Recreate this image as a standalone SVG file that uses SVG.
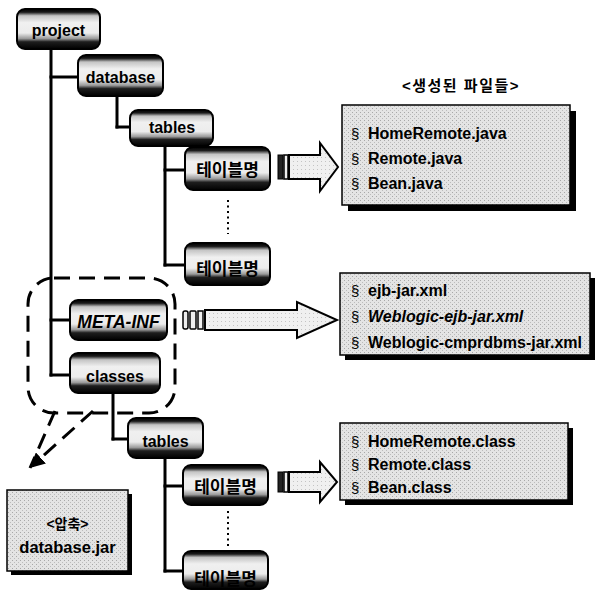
<svg xmlns="http://www.w3.org/2000/svg" width="597" height="591" viewBox="0 0 597 591">
<defs>
<linearGradient id="ng" x1="0" y1="0" x2="0" y2="1">
<stop offset="0" stop-color="#000"/>
<stop offset="0.08" stop-color="#1a1a1a"/>
<stop offset="0.17" stop-color="#c4c4c4"/>
<stop offset="0.34" stop-color="#f0f0f0"/>
<stop offset="0.6" stop-color="#ececec"/>
<stop offset="0.74" stop-color="#9a9a9a"/>
<stop offset="0.82" stop-color="#1e1e1e"/>
<stop offset="1" stop-color="#000"/>
</linearGradient>
<pattern id="st" width="4" height="4" patternUnits="userSpaceOnUse">
<rect width="4" height="4" fill="#e4e4e4"/>
<rect x="0" y="0" width="1" height="1" fill="#a8a8a8"/>
<rect x="2" y="2" width="1" height="1" fill="#bcbcbc"/>
</pattern>
<pattern id="st2" width="4" height="4" patternUnits="userSpaceOnUse">
<rect width="4" height="4" fill="#f0f0f0"/>
<rect x="1" y="1" width="1" height="1" fill="#c4c4c4"/>
</pattern>
<marker id="ah" viewBox="0 0 10 10" refX="8" refY="5" markerWidth="5" markerHeight="5" orient="auto">
<path d="M0,0 L10,5 L0,10 Z" fill="#000"/>
</marker>
</defs>
<style>
.node rect{fill:url(#ng);stroke:#000;stroke-width:2}
.nt{font-family:"Liberation Sans",Arial,sans-serif;font-size:16px;font-weight:bold;fill:#000;text-anchor:middle}
.kt{font-family:"Liberation Sans","Noto Sans CJK KR",sans-serif;font-size:17px;font-weight:bold;fill:#000;text-anchor:middle}
.conn line{stroke:#000;stroke-width:3;stroke-linecap:square}
.dots{stroke:#000;stroke-width:2;stroke-dasharray:2 3.5;fill:none}
.shadow{fill:#000}
.fbox{fill:url(#st);stroke:#000;stroke-width:1.5}
.ft{font-family:"Liberation Sans",Arial,sans-serif;font-size:16px;font-weight:bold;fill:#000}
.sec{font-family:"Liberation Sans",Arial,sans-serif;font-size:15px;fill:#000}
.barrow{fill:url(#st2);stroke:#000;stroke-width:2;stroke-linejoin:miter}
.lip{fill:#222;stroke:#000;stroke-width:1}
.lip2{fill:#eee;stroke:#000;stroke-width:1.5}
.dash{fill:none;stroke:#000;stroke-width:3;stroke-dasharray:16 9}
</style>

<g id="connectors" class="conn">
<line x1="51" y1="49" x2="51" y2="375"/>
<line x1="51" y1="77" x2="78" y2="77"/>
<line x1="51" y1="320" x2="70" y2="320"/>
<line x1="51" y1="375" x2="70" y2="375"/>
<line x1="117" y1="96" x2="117" y2="127"/>
<line x1="117" y1="127" x2="130" y2="127"/>
<line x1="165" y1="146" x2="165" y2="265"/>
<line x1="165" y1="170" x2="185" y2="170"/>
<line x1="165" y1="265" x2="185" y2="265"/>
<line x1="113" y1="393" x2="113" y2="439"/>
<line x1="113" y1="439" x2="128" y2="439"/>
<line x1="165" y1="458" x2="165" y2="571"/>
<line x1="165" y1="486" x2="183" y2="486"/>
<line x1="165" y1="571" x2="183" y2="571"/>
</g>

<g id="node-project" class="node"><rect x="17" y="9" width="83" height="40" rx="8"/><text class="nt" x="58.5" y="36">project</text></g>
<g id="node-database" class="node"><rect x="78" y="55" width="85" height="41" rx="8"/><text class="nt" x="120.5" y="83">database</text></g>
<g id="node-tables1" class="node"><rect x="130" y="110" width="83" height="36" rx="8"/><text class="nt" x="172" y="133">tables</text></g>
<g id="node-tn1" class="node"><rect x="185" y="147" width="85" height="43" rx="8"/><text class="kt" x="227.5" y="176">테이블명</text></g>
<path class="dots" d="M228,200 V234"/>
<g id="node-tn2" class="node"><rect x="185" y="243" width="85" height="42" rx="8"/><text class="kt" x="227.5" y="275">테이블명</text></g>
<g id="node-metainf" class="node"><rect x="70" y="300" width="97" height="40" rx="8"/><text class="nt" x="118.5" y="328" style="font-style:italic;font-size:17.5px">META-INF</text></g>
<g id="node-classes" class="node"><rect x="70" y="353" width="90" height="40" rx="8"/><text class="nt" x="115" y="382">classes</text></g>
<g id="node-tables2" class="node"><rect x="128" y="418" width="75" height="40" rx="8"/><text class="nt" x="165.5" y="447">tables</text></g>
<g id="node-tn3" class="node"><rect x="183" y="465" width="85" height="40" rx="8"/><text class="kt" x="225.5" y="493">테이블명</text></g>
<path class="dots" d="M228,511 V547"/>
<g id="node-tn4" class="node"><rect x="183" y="551" width="85" height="38" rx="8"/><text class="kt" x="225.5" y="585">테이블명</text></g>

<g id="group-boundary">
<rect class="dash" x="28" y="278" width="147" height="135" rx="26"/>
<line class="dash" x1="55" y1="411" x2="30" y2="468"/>
<line class="dash" x1="93" y1="411" x2="32" y2="466" marker-end="url(#ah)"/>
</g>

<g id="arrow1">
<rect class="lip" x="278" y="155" width="5" height="24"/>
<rect class="lip2" x="284" y="155" width="4" height="24"/>
<polygon class="barrow" points="289,155 320,155 320,143 338,167 320,191 320,179 289,179"/>
</g>
<g id="arrow2">
<rect class="lip2" x="183" y="311" width="5" height="18" rx="2"/>
<rect class="lip2" x="190" y="311" width="6" height="18" rx="1"/>
<rect class="lip2" x="198" y="311" width="5" height="18"/>
<polygon class="barrow" points="205,310 297,310 297,302 337,320 297,338 297,330 205,330"/>
</g>
<g id="arrow3">
<rect class="lip" x="278" y="472" width="5" height="20"/>
<rect class="lip2" x="284" y="472" width="4" height="20"/>
<polygon class="barrow" points="289,472 320,472 320,462 337,482 320,502 320,492 289,492"/>
</g>

<text id="title" x="461" y="91" style="font-family:'Liberation Sans','Noto Sans CJK KR',sans-serif;font-size:15px;font-weight:bold;letter-spacing:1.5px;text-anchor:middle">&lt;생성된 파일들&gt;</text>

<g id="files-java">
<rect class="shadow" x="348" y="111" width="228" height="100"/>
<rect class="fbox" x="342" y="105" width="228" height="100"/>
<text class="sec" x="351" y="139">§</text><text class="ft" x="368" y="139">HomeRemote.java</text>
<text class="sec" x="351" y="164">§</text><text class="ft" x="368" y="164">Remote.java</text>
<text class="sec" x="351" y="189">§</text><text class="ft" x="368" y="189">Bean.java</text>
</g>

<g id="files-xml">
<rect class="shadow" x="345" y="278" width="250" height="82"/>
<rect class="fbox" x="340" y="273" width="250" height="82"/>
<text class="sec" x="351" y="296">§</text><text class="ft" x="368" y="296">ejb-jar.xml</text>
<text class="sec" x="351" y="322">§</text><text class="ft" x="368" y="322" style="font-style:italic">Weblogic-ejb-jar.xml</text>
<text class="sec" x="351" y="348">§</text><text class="ft" x="368" y="348">Weblogic-cmprdbms-jar.xml</text>
</g>

<g id="files-class">
<rect class="shadow" x="345" y="428" width="228" height="77"/>
<rect class="fbox" x="340" y="423" width="228" height="77"/>
<text class="sec" x="351" y="447">§</text><text class="ft" x="368" y="447">HomeRemote.class</text>
<text class="sec" x="351" y="470">§</text><text class="ft" x="368" y="470">Remote.class</text>
<text class="sec" x="351" y="493">§</text><text class="ft" x="368" y="493">Bean.class</text>
</g>

<g id="jar">
<rect class="shadow" x="11" y="494" width="121" height="81"/>
<rect class="fbox" x="7" y="490" width="121" height="81"/>
<text x="67.5" y="529" style="font-family:'Liberation Sans','Noto Sans CJK KR',sans-serif;font-size:14px;font-weight:bold;text-anchor:middle">&lt;압축&gt;</text>
<text x="67.5" y="553" style="font-family:'Liberation Sans',Arial,sans-serif;font-size:16.5px;font-weight:bold;text-anchor:middle">database.jar</text>
</g>
</svg>
